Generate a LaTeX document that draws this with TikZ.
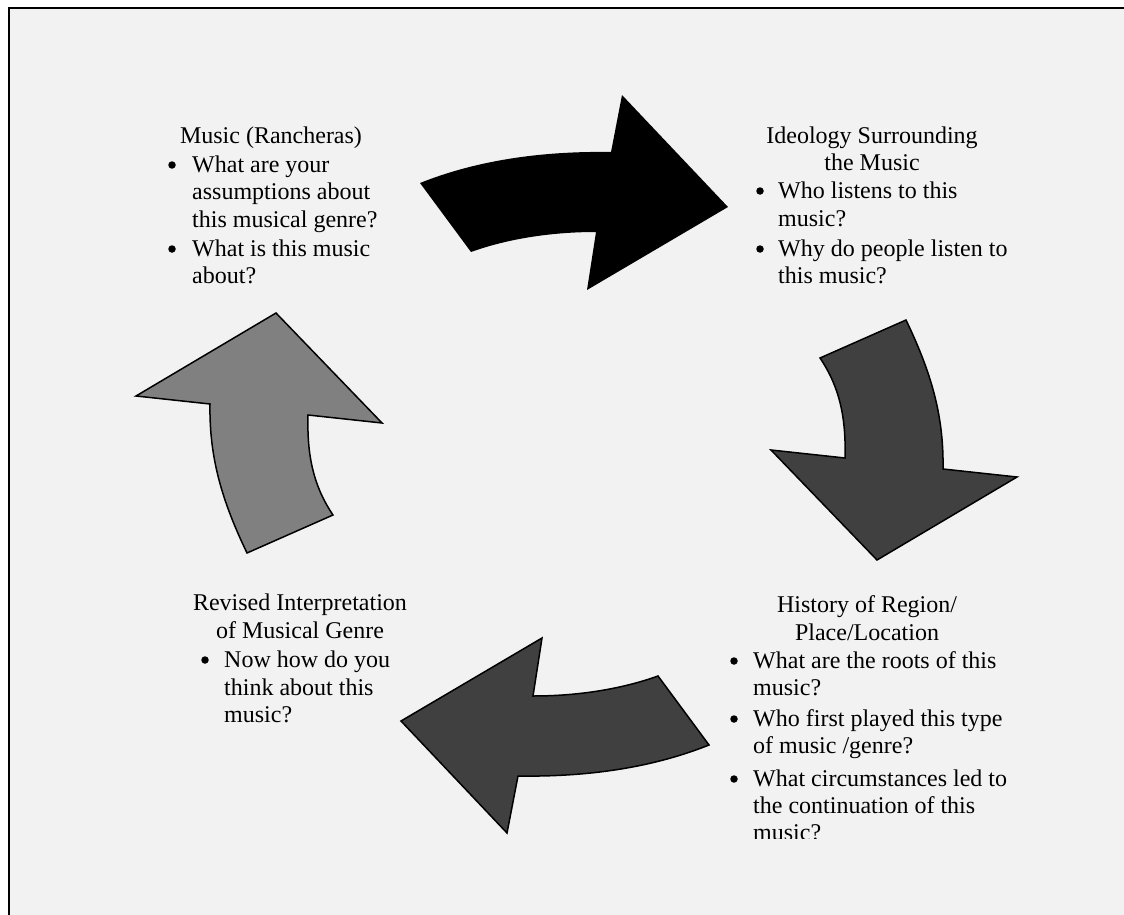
\documentclass[tikz,border=0pt]{standalone}
\usepackage{fontspec}
\setmainfont{Liberation Serif}
\definecolor{bgc}{HTML}{F2F2F2}
\definecolor{darkarrow}{HTML}{404040}
\definecolor{midarrow}{HTML}{808080}
\newcommand\tfont{\fontsize{24}{27}\selectfont}
\tikzset{
  ttl/.style={anchor=base, inner sep=0pt, font=\tfont},
  ln/.style={anchor=base west, inner sep=0pt, font=\tfont},
  bul/.style={circle, fill=black, inner sep=0pt, minimum size=7.5pt, yshift=7pt},
  arrowh/.pic={\path[pic actions] (420,183) .. controls (480,159) and (546,151) .. (611,152)
      -- (622,95) -- (728,207) -- (587,290) -- (596,232)
      .. controls (554,232) and (510,238) .. (471,252) -- cycle;},
  arrowv/.pic={\path[pic actions] (820,358) -- (906,320) .. controls (930,370) and (944,414) .. (943,469)
      -- (1017,477) -- (877,560) -- (771,450) -- (845,458)
      .. controls (846,421) and (841,389) .. (820,358) -- cycle;},
  outl/.style={draw=black, line width=1.5pt},
}
\begin{document}
\begin{tikzpicture}[x=1pt,y=-1pt]
\useasboundingbox (0,0) rectangle (1124,915);
\fill[white] (0,0) rectangle (1124,915);
\fill[bgc] (9,8) rectangle (1124,915);
\draw[line width=2pt] (9,916) -- (9,8) -- (1124,8);

% arrows
\pic[fill=black] {arrowh};
\pic[fill=darkarrow, outl] {arrowv};
\pic[fill=darkarrow, outl, rotate around={180:(564.5,464)}] {arrowh};
\pic[fill=midarrow, outl, rotate around={180:(576.5,436.5)}] {arrowv};

% block 1
\node[ttl] (mt) at (271,143) {Music (Rancheras)};
\node[bul] (mb1) at (172,172) {};
\node[ln] (m1a) at (192,172) {What are your};
\node[ln] (m1b) at (192,199) {assumptions about};
\node[ln] (m1c) at (192,227) {this musical genre?};
\node[bul] (mb2) at (172,256) {};
\node[ln] (m2a) at (192,256) {What is this music};
\node[ln] (m2b) at (192,283) {about?};

% block 2
\node[ttl] (it1) at (872,143) {Ideology Surrounding};
\node[ttl] (it2) at (872,170) {the Music};
\node[bul] (ib1) at (760,198) {};
\node[ln] (i1a) at (778,198) {Who listens to this};
\node[ln] (i1b) at (778,226) {music?};
\node[bul] (ib2) at (760,256) {};
\node[ln] (i2a) at (778,256) {Why do people listen to};
\node[ln] (i2b) at (778,283) {this music?};

% block 3
\node[ttl] (rt1) at (300,610) {Revised Interpretation};
\node[ttl] (rt2) at (300,638) {of Musical Genre};
\node[bul] (rb1) at (205,667) {};
\node[ln] (r1a) at (224,667) {Now how do you};
\node[ln] (r1b) at (224,695) {think about this};
\node[ln] (r1c) at (224,722) {music?};

% block 4
\begin{scope}
\clip (700,580) rectangle (1100,838);
\node[ttl] (ht1) at (867,612) {History of Region/};
\node[ttl] (ht2) at (867,640) {Place/Location};
\node[bul] (hb1) at (734,668) {};
\node[ln] (h1a) at (753,668) {What are the roots of this};
\node[ln] (h1b) at (753,695) {music?};
\node[bul] (hb2) at (734,726) {};
\node[ln] (h2a) at (753,726) {Who first played this type};
\node[ln] (h2b) at (753,753) {of music /genre?};
\node[bul] (hb3) at (734,786) {};
\node[ln] (h3a) at (753,786) {What circumstances led to};
\node[ln] (h3b) at (753,813) {the continuation of this};
\node[ln] (h3c) at (753,840) {music?};
\end{scope}
\end{tikzpicture}
\end{document}
